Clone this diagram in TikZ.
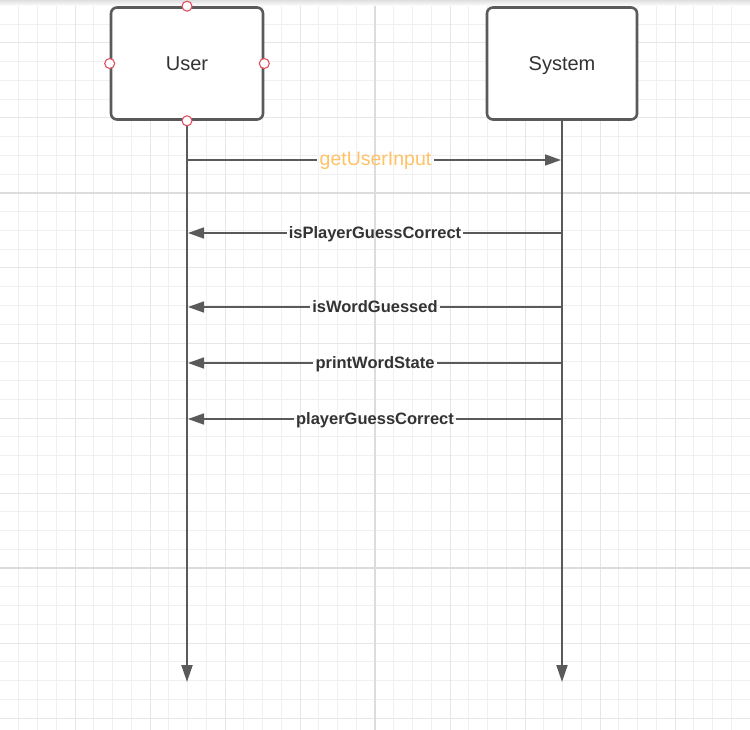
\documentclass[tikz,border=0pt]{standalone}
\usepackage{fontspec}
\setmainfont{Liberation Sans}
\usetikzlibrary{arrows.meta,calc}
\definecolor{gridminor}{HTML}{F0F0F0}
\definecolor{gridmid}{HTML}{E6E6E6}
\definecolor{gridmajor}{HTML}{DCDCDC}
\definecolor{ink}{HTML}{5A5A5A}
\definecolor{txt}{HTML}{333333}
\definecolor{callout}{HTML}{FFC266}
\definecolor{handle}{HTML}{E2505F}
\begin{document}
\begin{tikzpicture}[x=1pt,y=-1pt,
  actor/.style={draw=ink,line width=2.6pt,rounded corners=6pt,fill=white,
    minimum width=150pt,minimum height=112pt,inner sep=0pt,
    text height=14.3pt,text depth=0pt,
    font=\fontsize{20}{24}\selectfont,text=txt},
  lifeline/.style={draw=ink,line width=2pt,-{Triangle[length=17pt,width=11pt]}},
  msg/.style={draw=ink,line width=1.5pt},
  msgtip/.style={-{Triangle[length=16pt,width=11pt]}},
  msglabel/.style={font=\bfseries\fontsize{16.5}{20}\selectfont,text=txt,
    inner xsep=2pt,inner ysep=0pt,anchor=base},
  inputlabel/.style={font=\fontsize{19.5}{23}\selectfont,text=callout,
    inner xsep=2pt,inner ysep=0pt,anchor=base},
  handledot/.style={draw=handle,fill=white,line width=1.1pt}]

% canvas
\fill[white] (0,0) rectangle (750,730);
\useasboundingbox (0,0) rectangle (750,730);
\shade[top color=gray!25,bottom color=white] (0,0) rectangle (750,6);

% grid: minor, medium and major lines
\foreach \i in {1,...,39}
  \draw[gridminor,line width=1pt] (\i*18.75,6) -- (\i*18.75,730);
\foreach \j in {1,...,38}
  \draw[gridminor,line width=1pt] (0,5.5+\j*18.75) -- (750,5.5+\j*18.75);
\foreach \i in {4,8,...,36}
  \draw[gridmid,line width=1pt] (\i*18.75,6) -- (\i*18.75,730);
\foreach \j in {2,6,...,38}
  \draw[gridmid,line width=1pt] (0,5.5+\j*18.75) -- (750,5.5+\j*18.75);
\draw[gridmajor,line width=1.8pt] (375,6) -- (375,730);
\draw[gridmajor,line width=1.8pt] (0,193) -- (750,193);
\draw[gridmajor,line width=1.8pt] (0,568) -- (750,568);

% participants
\node[actor,minimum width=152pt] (user) at (187,63.5) {User};
\node[actor] (system) at (562,63.5) {System};

% lifelines
\coordinate (userend) at (187,682);
\coordinate (sysend) at (562,682);
\draw[lifeline] (user.south) -- (userend);
\draw[lifeline] (system.south) -- (sysend);

% selection handles on the User box
\foreach \a in {north,south,east,west}
  \draw[handledot] (user.\a) circle (5);

% message 1: User -> System
\coordinate (u1) at (187,160);
\coordinate (s1) at (561,160);
\node[inputlabel] (l1) at (375.5,165.5) {getUserInput};
\draw[msg] (u1) -- (l1.west |- u1);
\draw[msg,msgtip] (l1.east |- u1) -- (s1);

% messages System -> User
\foreach \k/\y/\t in {2/233/isPlayerGuessCorrect,3/307/isWordGuessed,
                      4/363/printWordState,5/419/playerGuessCorrect}{
  \coordinate (u\k) at (188,\y);
  \coordinate (s\k) at (562,\y);
  \node[msglabel] (l\k) at (375,\y+5.5) {\t};
  \draw[msg] (s\k) -- (l\k.east |- s\k);
  \draw[msg,msgtip] (l\k.west |- u\k) -- (u\k);
}
\end{tikzpicture}
\end{document}
